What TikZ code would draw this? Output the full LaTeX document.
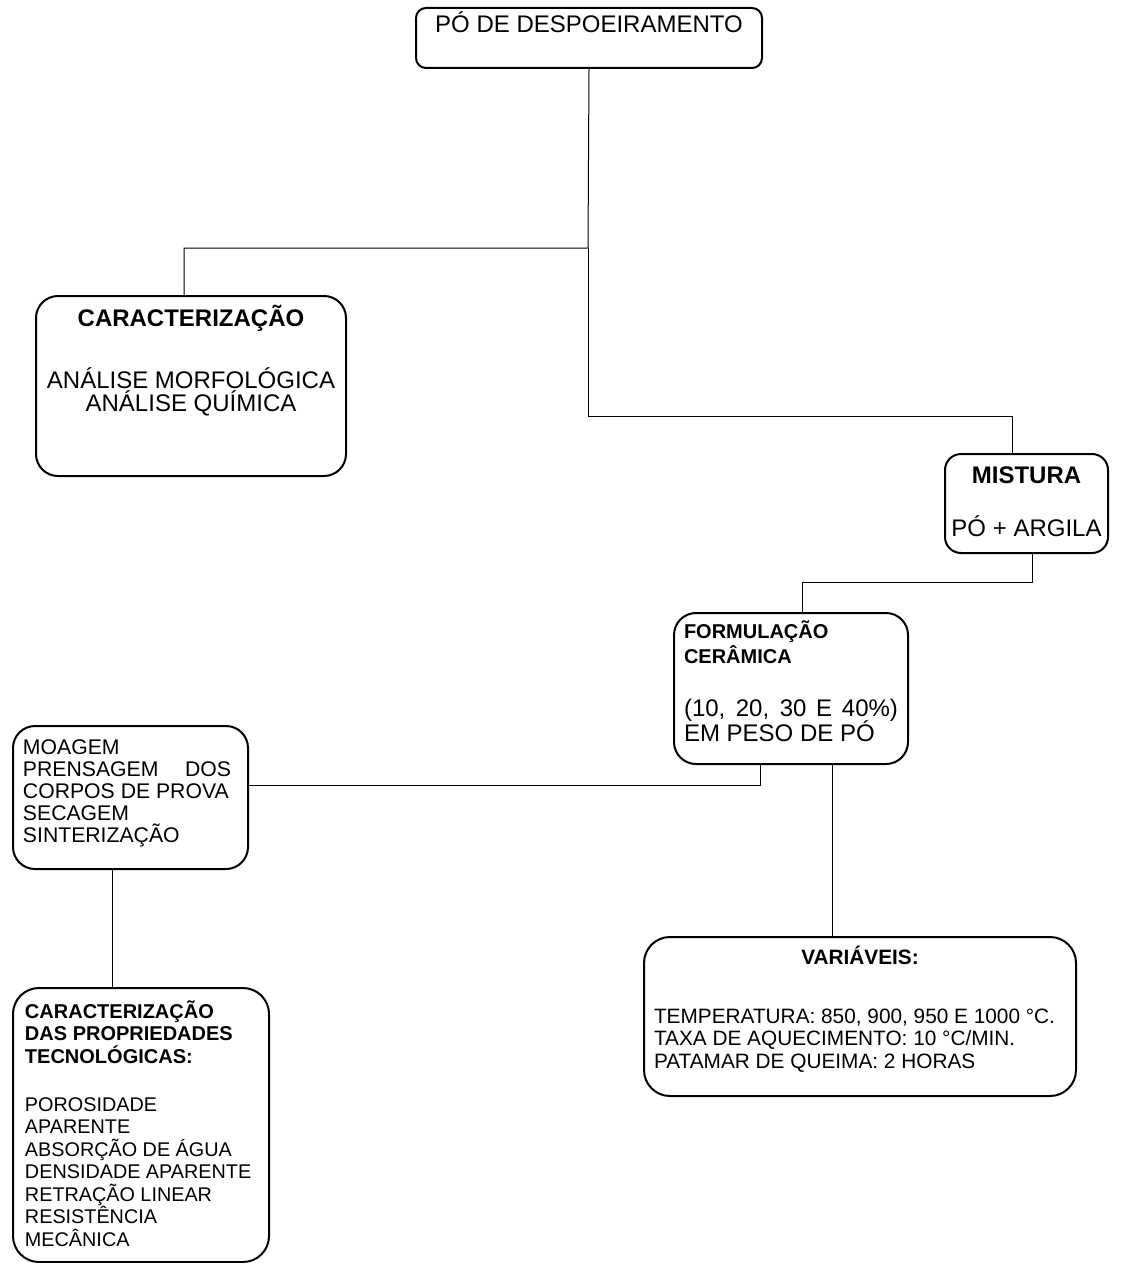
\documentclass[tikz,border=0pt]{standalone}
\usepackage{fontspec}
\setmainfont{Liberation Sans}
\newcommand{\caixatxt}[3]{\parbox[t][#2]{#1}{\lineskiplimit=-20pt\lineskip=0pt #3}}
\tikzset{
  caixa/.style={draw, line width=1pt, inner sep=0pt, anchor=north west},
  ligacao/.style={line width=0.5pt}
}
\begin{document}
\begin{tikzpicture}[x=0.5pt,y=-0.5pt]
\useasboundingbox (0,0) rectangle (1120,1263);

\node[caixa, rounded corners=5pt] (po) at (415,7) {\caixatxt{173pt}{30pt}{\centering\fontsize{12}{14}\selectfont
  \rule{0pt}{12.5pt}PÓ DE DESPOEIRAMENTO}};

\node[caixa, rounded corners=11pt] (car1) at (35,295) {\caixatxt{155pt}{90pt}{\centering\fontsize{12}{11.5}\selectfont
  \rule{0pt}{15pt}\textbf{CARACTERIZAÇÃO}\\[19.5pt]
  ANÁLISE MORFOLÓGICA\\
  ANÁLISE QUÍMICA}};

\node[caixa, rounded corners=8pt] (mis) at (944,453) {\caixatxt{81.5pt}{49.5pt}{\centering\fontsize{12}{14}\selectfont
  \rule{0pt}{14.5pt}\textbf{MISTURA}\\[12.5pt]
  PÓ + ARGILA}};

\node[caixa, rounded corners=11pt, inner xsep=5pt] (form) at (673,612) {\caixatxt{107pt}{75.5pt}{\fontsize{12}{12.5}\selectfont
  \rule{0pt}{12.5pt}{\fontsize{10}{12.5}\selectfont\bfseries FORMULAÇÃO\\CERÂMICA}\\[14pt]
  \makebox[\linewidth][s]{(10, 20, 30 E 40\%)}\\
  EM PESO DE PÓ}};

\node[caixa, rounded corners=11pt, inner xsep=5pt] (moa) at (12,725) {\caixatxt{107.5pt}{71.5pt}{\fontsize{10.6}{11.1}\selectfont
  \rule{0pt}{14pt}MOAGEM\\
  \makebox[104pt][s]{PRENSAGEM DOS}\\
  CORPOS DE PROVA\\
  SECAGEM\\
  SINTERIZAÇÃO}};

\node[caixa, rounded corners=13pt, inner xsep=6pt] (car2) at (12,987) {\caixatxt{116pt}{137pt}{\fontsize{9.9}{11.25}\selectfont
  \rule{0pt}{15pt}{\fontsize{10}{11.25}\selectfont\bfseries CARACTERIZAÇÃO\\DAS PROPRIEDADES\\TECNOLÓGICAS:}\\[12.75pt]
  POROSIDADE\\
  APARENTE\\
  ABSORÇÃO DE ÁGUA\\
  DENSIDADE APARENTE\\
  RETRAÇÃO LINEAR\\
  RESISTÊNCIA\\
  MECÂNICA}};

\node[caixa, rounded corners=13pt, inner xsep=5pt] (var) at (643,936) {\caixatxt{206pt}{79.5pt}{\fontsize{10.4}{11.25}\selectfont
  \rule{0pt}{13.5pt}\makebox[\linewidth]{\textbf{VARIÁVEIS:}}\\[18.25pt]
  TEMPERATURA: 850, 900, 950 E 1000 °C.\\
  TAXA DE AQUECIMENTO: 10 °C/MIN.\\
  PATAMAR DE QUEIMA: 2 HORAS}};

\coordinate (j0) at (184,248);
\coordinate (j1) at (588,248);
\coordinate (j2) at (1012,416);
\coordinate (j3) at (1032,582);
\coordinate (j4) at (802,582);
\coordinate (j5) at (760,785);
\coordinate (j6) at (832,850);
\coordinate (j7) at (112,925);

\draw[ligacao] (po.south) -- (j1) -- (j0) -- (car1.north -| j0);
\draw[ligacao] (j1) |- (j2) -- (mis.north -| j2);
\draw[ligacao] (mis.south -| j3) -- (j3) -- (j4) -- (form.north -| j4);
\draw[ligacao] (form.south -| j5) -- (j5) -- (moa.east |- j5);
\draw[ligacao] (form.south -| j6) -- (var.north -| j6);
\draw[ligacao] (moa.south -| j7) -- (car2.north -| j7);
\end{tikzpicture}
\end{document}
